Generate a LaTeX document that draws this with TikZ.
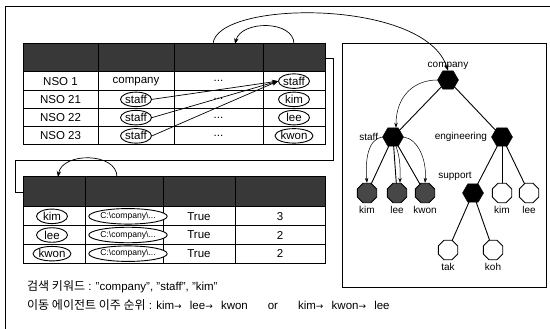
\documentclass[tikz,border=0pt]{standalone}
\usepackage{fontspec}
\setmainfont{Liberation Sans}
\newfontfamily\kr{Noto Sans CJK KR}
\newfontfamily\arrf{DejaVu Sans}
\newcommand{\rar}{{\arrf\fontsize{9}{10}\selectfont →}}
\usetikzlibrary{shapes.geometric,arrows.meta,positioning}
\definecolor{hdr}{gray}{0.22}
\definecolor{leafd}{gray}{0.28}
\begin{document}
\begin{tikzpicture}[x=1pt,y=-1pt,
  cell/.style={draw=black,line width=1pt,inner sep=0pt,outer sep=0pt,anchor=north west,font=\fontsize{11.5}{12}\selectfont},
  head/.style={cell,fill=hdr},
  oval/.style={ellipse,draw=black,line width=0.9pt,inner sep=0pt,minimum width=31pt,minimum height=14.5pt,fill=white,font=\fontsize{11.5}{12}\selectfont},
  path/.style={ellipse,draw=black,line width=0.9pt,inner sep=0pt,minimum height=15.5pt,fill=white,font=\fontsize{8.6}{9}\selectfont},
  arr/.style={line width=0.7pt,-{Stealth[length=6pt,width=4.5pt]}},
  conn/.style={line width=0.8pt},
  hexn/.style={regular polygon,regular polygon sides=6,minimum size=21pt,inner sep=0pt,fill=black,draw=black},
  octd/.style={regular polygon,regular polygon sides=8,minimum size=21pt,inner sep=0pt,fill=leafd,draw=black,line width=0.9pt},
  octw/.style={regular polygon,regular polygon sides=8,minimum size=21pt,inner sep=0pt,fill=white,draw=black,line width=0.9pt},
  lbl/.style={inner sep=1pt,font=\fontsize{10}{11}\selectfont},
  edge/.style={line width=0.9pt},
  tarr/.style={line width=0.5pt,-{Stealth[length=5pt,width=3.5pt]}}
]
\useasboundingbox (0,0) rectangle (550,329);
% outer frame (cropped at right and bottom)
\draw[line width=0.9pt] (5,329) -- (5,6) -- (550,6);

% ---------- upper table ----------
\node[head,minimum width=75pt,minimum height=28pt] (uh1) at (23,44) {};
\node[head,minimum width=76pt,minimum height=28pt] (uh2) at (98,44) {};
\node[head,minimum width=89pt,minimum height=28pt] (uh3) at (174,44) {};
\node[head,minimum width=62pt,minimum height=28pt] (uh4) at (263,44) {};
\foreach \r/\y/\t in {1/72/NSO 1,2/90.25/NSO 21,3/108.5/NSO 22,4/126.75/NSO 23}{
  \node[cell,minimum width=75pt,minimum height=18.25pt] (u\r1) at (23,\y) {\t};
  \node[cell,minimum width=76pt,minimum height=18.25pt] (u\r2) at (98,\y) {};
  \node[cell,minimum width=89pt,minimum height=18.25pt] (u\r3) at (174,\y) {...};
  \node[cell,minimum width=62pt,minimum height=18.25pt] (u\r4) at (263,\y) {};
}
\node[font=\fontsize{11.5}{12}\selectfont] (uc) at (u12.center) {company};
\node[oval] (us2) at (u22.center) {staff};
\node[oval] (us3) at (u32.center) {staff};
\node[oval] (us4) at (u42.center) {staff};
\node[oval] (uk1) at (u14.center) {staff};
\node[oval] (uk2) at (u24.center) {kim};
\node[oval] (uk3) at (u34.center) {lee};
\node[oval] (uk4) at (u44.center) {kwon};
\draw[arr] (us2.east) -- (uk1.west);
\draw[arr] (us3.east) -- (uk1.west);
\draw[arr] (us4.east) -- (uk1.west);

% ---------- lower table ----------
\node[head,minimum width=62pt,minimum height=30pt] (lh1) at (23,177) {};
\node[head,minimum width=78pt,minimum height=30pt] (lh2) at (85,177) {};
\node[head,minimum width=72pt,minimum height=30pt] (lh3) at (163,177) {};
\node[head,minimum width=90pt,minimum height=30pt] (lh4) at (235,177) {};
\foreach \r/\y/\n in {1/207/3,2/225.67/2,3/244.33/2}{
  \node[cell,minimum width=62pt,minimum height=18.67pt] (l\r1) at (23,\y) {};
  \node[cell,minimum width=78pt,minimum height=18.67pt] (l\r2) at (85,\y) {};
  \node[cell,minimum width=72pt,minimum height=18.67pt] (l\r3) at (163,\y) {True};
  \node[cell,minimum width=90pt,minimum height=18.67pt] (l\r4) at (235,\y) {\n};
}
\node[oval] (lk1) at ([xshift=-2pt]l11.center) {kim};
\node[oval] (lk2) at ([xshift=-2pt]l21.center) {lee};
\node[oval] (lk3) at ([xshift=-2pt]l31.center) {kwon};
\foreach \r in {1,2,3}{
  \node[path] (lp\r) at ([xshift=4pt]l\r2.center) {C:\textbackslash company\textbackslash ...};
}

% ---------- connectors between tables ----------
\coordinate (e1) at (333,160);
\coordinate (e2) at (15,160);
\draw[conn] (uh4.east) -| (e1) -- (e2) |- (lh1.west);
\draw[arr] (uh4.north) .. controls +(0,-24) and +(6,-24) .. ([xshift=16.5pt]uh3.north);
\draw[arr] ([xshift=-7pt]lh2.north) .. controls +(0,-25) and +(4,-25) .. ([xshift=4pt]lh1.north);

% ---------- tree ----------
\draw[line width=0.9pt] (342,43) rectangle (546,287);
\coordinate (co) at (448,80);
\coordinate (st) at (393,137);
\coordinate (en) at (502,137);
\coordinate (su) at (473,193);
\coordinate (k1) at (367,193);
\coordinate (l1) at (397,193);
\coordinate (w1) at (425,193);
\coordinate (k2) at (502,193);
\coordinate (l2) at (529,193);
\coordinate (ta) at (448,250);
\coordinate (ko) at (493,250);
\draw[edge] (co) -- (st);
\draw[edge] (co) -- (en);
\draw[edge] (st) -- (k1);
\draw[edge] (st) -- (l1);
\draw[edge] (st) -- (w1);
\draw[edge] (en) -- (su);
\draw[edge] (en) -- (k2);
\draw[edge] (en) -- (l2);
\draw[edge] (su) -- (ta);
\draw[edge] (su) -- (ko);
\node[hexn] (con) at (co) {};
\node[hexn] (stn) at (st) {};
\node[hexn] (enn) at (en) {};
\node[hexn] (sun) at (su) {};
\node[octd] (k1n) at (k1) {};
\node[octd] (l1n) at (l1) {};
\node[octd] (w1n) at (w1) {};
\node[octw] (k2n) at (k2) {};
\node[octw] (l2n) at (l2) {};
\node[octw] (tan) at (ta) {};
\node[octw] (kon) at (ko) {};

\node[lbl,above=0pt of con] (col) {company};
\node[lbl,left=3pt of stn] (stl) {staff};
\node[lbl,left=3pt of enn] (enl) {engineering};
\node[lbl] (sul) at (455,176) {support};
\node[lbl,below=2pt of k1n] (k1l) {kim};
\node[lbl,below=2pt of l1n] (l1l) {lee};
\node[lbl,below=2pt of w1n] (w1l) {kwon};
\node[lbl,below=2pt of k2n] (k2l) {kim};
\node[lbl,below=2pt of l2n] (l2l) {lee};
\node[lbl,below=2pt of tan] (tal) {tak};
\node[lbl,below=2pt of kon] (kol) {koh};

\draw[tarr] (con.west) .. controls (415,80) and (396,95) .. ([xshift=3pt]stn.north);
\draw[tarr] (stn.west) .. controls (368,139) and (365,160) .. (k1n.north);
\draw[tarr] ([xshift=3pt]stn.south) .. controls (401,160) and (400,170) .. ([xshift=3pt]l1n.north);
\draw[tarr] (stn.east) .. controls (418,139) and (427,160) .. (w1n.north);

% long curve from upper table to tree root
\draw[arr] ([xshift=-5.5pt]uh3.north) .. controls (216,0) and (425,-2) .. (con.north);

% ---------- text lines ----------
\node[anchor=west,inner sep=0pt,font=\fontsize{11.5}{12}\selectfont] (t1) at (27,287) {{\kr\fontsize{12}{12}\selectfont 검색 키워드} : "company", "staff", "kim"};
\node[anchor=west,inner sep=0pt,font=\fontsize{11.5}{12}\selectfont] (t2) at (27,305) {{\kr\fontsize{12}{12}\selectfont 이동 에이전트 이주 순위} : kim\rar\ \hspace{5pt}lee\rar\ \hspace{5pt}kwon\hspace{20pt}or\hspace{20pt}kim\rar\ \hspace{5pt}kwon\rar\ \hspace{5pt}lee};
\end{tikzpicture}
\end{document}
